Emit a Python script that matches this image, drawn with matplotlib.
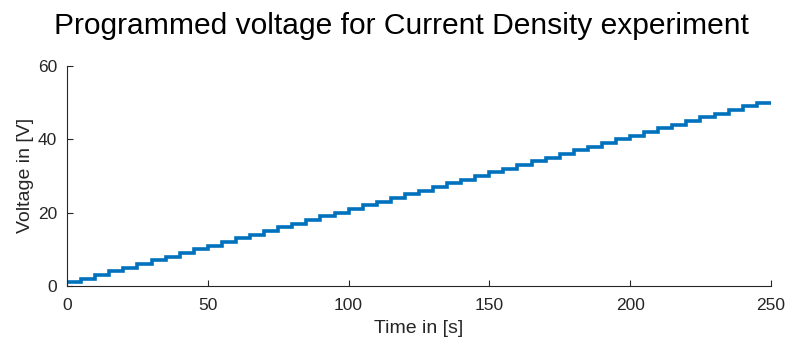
import matplotlib.pyplot as plt
import numpy as np

# step edges in seconds and programmed voltage per step
step_edges = [0, 5, 10, 15, 20, 25, 30, 35, 40, 45, 50, 55, 60, 65, 70, 75, 80, 85, 90, 95,
              100, 105, 110, 115, 120, 125, 130, 135, 140, 145, 150, 155, 160, 165, 170, 175,
              180, 185, 190, 195, 200, 205, 210, 215, 220, 225, 230, 235, 240, 245, 250]
voltage = [1, 2, 3, 4, 5, 6, 7, 8, 9, 10, 11, 12, 13, 14, 15, 16, 17, 18, 19, 20,
           21, 22, 23, 24, 25, 26, 27, 28, 29, 30, 31, 32, 33, 34, 35, 36, 37, 38, 39, 40,
           41, 42, 43, 44, 45, 46, 47, 48, 49, 50]
x_ticks = [0, 50, 100, 150, 200, 250]
y_ticks = [0, 20, 40, 60]

plt.rcParams["font.family"] = ["Liberation Sans", "DejaVu Sans"]
text_col = "#262626"

fig = plt.figure(figsize=(7.89, 3.47), dpi=100)
ax = fig.add_axes([0.085, 0.176, 0.892, 0.634])

ax.stairs(voltage, step_edges, color="#0072BD", linewidth=2.6, baseline=None)

ax.set_xlim(0, 250)
ax.set_ylim(0, 60)
ax.set_xticks(x_ticks)
ax.set_yticks(y_ticks)
ax.tick_params(direction="in", length=4, width=0.8, colors=text_col, labelsize=12.5)
ax.tick_params(axis="x", pad=9)
ax.tick_params(axis="y", pad=7)
for side in ["top", "right"]:
    ax.spines[side].set_visible(False)
for side in ["left", "bottom"]:
    ax.spines[side].set_color(text_col)
    ax.spines[side].set_linewidth(0.8)

ax.set_xlabel("Time in [s]", fontsize=14, color=text_col, labelpad=5)
ax.set_ylabel("Voltage in [V]", fontsize=14, color=text_col, labelpad=3)
fig.text(0.509, 0.902, "Programmed voltage for Current Density experiment",
         ha="center", va="baseline", fontsize=21.6, color="black")

fig.savefig("out.png", dpi=100)
